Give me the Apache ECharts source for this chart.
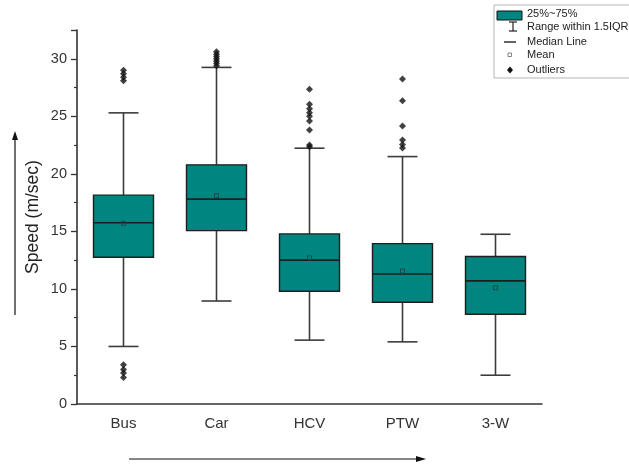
<!DOCTYPE html>
<html>
<head>
<meta charset="utf-8">
<script src="https://cdn.jsdelivr.net/npm/echarts@6/dist/echarts.min.js"></script>
<style>
  html,body{margin:0;padding:0;background:#fff}
  #chart{width:629px;height:465px}
</style>
</head>
<body>
<div id="chart"></div>
<script>
/* boxplot de velocidad por tipo de vehículo */
const categories = ["Bus", "Car", "HCV", "PTW", "3-W"];
const lowWhisker = [5.0, 8.95, 5.55, 5.4, 2.5];
const q1 = [12.75, 15.07, 9.8, 8.84, 7.8];
const median = [15.75, 17.8, 12.5, 11.3, 10.7];
const q3 = [18.15, 20.78, 14.78, 13.94, 12.82];
const highWhisker = [25.3, 29.25, 22.23, 21.5, 14.75];
const means = [15.7, 18.1, 12.7, 11.55, 10.1];
const outliers = [
  [0, 29.0], [0, 28.7], [0, 28.4], [0, 28.1],
  [0, 3.4], [0, 3.0], [0, 2.7], [0, 2.3],
  [1, 30.6], [1, 30.4], [1, 30.2], [1, 30.0], [1, 29.8], [1, 29.6], [1, 29.4],
  [2, 27.35], [2, 26.05], [2, 25.65], [2, 25.3], [2, 25.0], [2, 24.6], [2, 23.8], [2, 22.5], [2, 22.35],
  [3, 28.25], [3, 26.35], [3, 24.15], [3, 22.95], [3, 22.55], [3, 22.25]
];
const yTicks = {min: 0, max: 32.5, interval: 5};

const TEAL = "#008580", DARK = "#1e1e1e", WHISK = "#3c3c3c";
const FONT = "'Liberation Sans', Arial, sans-serif";
const boxData = categories.map((c, i) => [i, lowWhisker[i], q1[i], median[i], q3[i], highWhisker[i], means[i]]);

function renderBox(params, api){
  const i = api.value(0);
  const bw = api.size([1, 0])[0] * 0.645;
  const cx = api.coord([i, 0])[0];
  const y = k => api.coord([i, api.value(k)])[1];
  const yLo = y(1), yQ1 = y(2), yMed = y(3), yQ3 = y(4), yHi = y(5), yMean = y(6);
  const cap = bw / 2;
  const ln = (x1, y1, x2, y2, st) => ({type: "line", shape: {x1, y1, x2, y2}, style: st});
  const ws = {stroke: WHISK, lineWidth: 1.6};
  return {type: "group", children: [
    ln(cx, yQ3, cx, yHi, ws),
    ln(cx, yQ1, cx, yLo, ws),
    ln(cx - cap / 2, yHi, cx + cap / 2, yHi, ws),
    ln(cx - cap / 2, yLo, cx + cap / 2, yLo, ws),
    {type: "rect", shape: {x: cx - bw / 2, y: yQ3, width: bw, height: yQ1 - yQ3},
      style: {fill: TEAL, stroke: DARK, lineWidth: 1.4}},
    ln(cx - bw / 2, yMed, cx + bw / 2, yMed, {stroke: DARK, lineWidth: 1.6}),
    {type: "rect", shape: {x: cx - 2, y: yMean - 2, width: 4, height: 4},
      style: {fill: "none", stroke: "#1f4444", lineWidth: 0.9}}
  ]};
}

const chart = echarts.init(document.getElementById("chart"));
const legX = 494, legY = 5, txX = 527;
const legTxt = (t, y) => ({type: "text", x: txX, y, style: {text: t, fill: "#222", font: "11px " + FONT, verticalAlign: "middle"}});

chart.setOption({
  animation: false,
  textStyle: {fontFamily: FONT},
  grid: {left: 77, right: 87, top: 30, bottom: 61, containLabel: false},
  xAxis: {
    type: "category", data: categories, boundaryGap: true,
    axisLine: {lineStyle: {color: "#333", width: 1.6}},
    axisTick: {alignWithLabel: true, length: 5, lineStyle: {color: "#333", width: 1.3}},
    axisLabel: {color: "#333", fontSize: 15, margin: 12},
    splitLine: {show: false}
  },
  yAxis: {
    type: "value", min: yTicks.min, max: yTicks.max, interval: yTicks.interval,
    name: "Speed (m/sec)", nameLocation: "middle", nameGap: 35, nameMoveOverlap: false,
    nameTextStyle: {fontSize: 17.5, color: "#222"},
    axisLine: {show: true, lineStyle: {color: "#333", width: 1.6}},
    axisTick: {show: true, length: 6, lineStyle: {color: "#333", width: 1.3}},
    minorTick: {show: true, splitNumber: 2, length: 3, lineStyle: {color: "#333", width: 1.2}},
    axisLabel: {color: "#333", fontSize: 14.5, margin: 10, showMaxLabel: false},
    splitLine: {show: false}
  },
  series: [
    {type: "custom", renderItem: renderBox, data: boxData, encode: {x: 0, y: [1, 2, 3, 4, 5, 6]}, z: 2},
    {type: "scatter", data: outliers, symbol: "diamond", symbolSize: 7, itemStyle: {color: "#111"}, z: 3}
  ],
  graphic: [
    {type: "rect", shape: {x: legX, y: legY, width: 150, height: 73}, style: {fill: "#fff", stroke: "#b5b5b5", lineWidth: 1}},
    {type: "rect", shape: {x: 497, y: 11, width: 25, height: 9}, style: {fill: TEAL, stroke: "#111", lineWidth: 1}},
    legTxt("25%~75%", 14),
    {type: "line", shape: {x1: 513, y1: 22, x2: 513, y2: 31}, style: {stroke: "#222", lineWidth: 1.2}},
    {type: "line", shape: {x1: 509, y1: 22, x2: 517, y2: 22}, style: {stroke: "#222", lineWidth: 1.2}},
    {type: "line", shape: {x1: 509, y1: 31, x2: 517, y2: 31}, style: {stroke: "#222", lineWidth: 1.2}},
    legTxt("Range within 1.5IQR", 27),
    {type: "line", shape: {x1: 504, y1: 42, x2: 516, y2: 42}, style: {stroke: "#222", lineWidth: 1.4}},
    legTxt("Median Line", 42),
    {type: "rect", shape: {x: 508, y: 53, width: 3.5, height: 3.5}, style: {fill: "none", stroke: "#666", lineWidth: 0.8}},
    legTxt("Mean", 55),
    {type: "polygon", shape: {points: [[510, 66.5], [513, 70], [510, 73.5], [507, 70]]}, style: {fill: "#111"}},
    legTxt("Outliers", 70),
    // flechas
    {type: "line", shape: {x1: 15, y1: 315, x2: 15, y2: 138}, style: {stroke: "#111", lineWidth: 1.2}},
    {type: "polygon", shape: {points: [[15, 131], [12, 140], [18, 140]]}, style: {fill: "#111"}},
    {type: "line", shape: {x1: 129, y1: 459, x2: 418, y2: 459}, style: {stroke: "#111", lineWidth: 1.2}},
    {type: "polygon", shape: {points: [[426, 459], [416, 456], [416, 462]]}, style: {fill: "#111"}}
  ]
});
</script>
</body>
</html>
